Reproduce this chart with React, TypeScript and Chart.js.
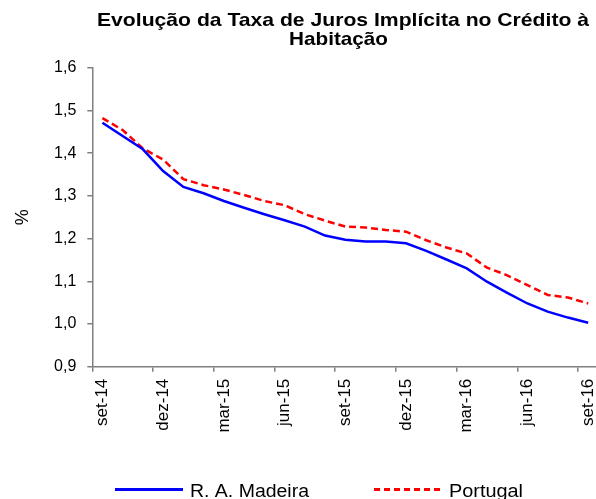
import React, { useEffect, useRef } from "react";
import { Chart, registerables } from "chart.js";

Chart.register(...registerables);

const months = [
  "set-14", "out-14", "nov-14", "dez-14", "jan-15", "fev-15", "mar-15", "abr-15", "mai-15",
  "jun-15", "jul-15", "ago-15", "set-15", "out-15", "nov-15", "dez-15", "jan-16", "fev-16",
  "mar-16", "abr-16", "mai-16", "jun-16", "jul-16", "ago-16", "set-16",
];

const madeira = [
  1.471, 1.44, 1.409, 1.358, 1.321, 1.306, 1.288, 1.272, 1.257, 1.243, 1.228, 1.207, 1.197,
  1.193, 1.193, 1.189, 1.171, 1.151, 1.13, 1.099, 1.073, 1.048, 1.029, 1.015, 1.003,
];

const portugal = [
  1.482, 1.454, 1.411, 1.385, 1.339, 1.325, 1.315, 1.302, 1.288, 1.278, 1.257, 1.242, 1.228,
  1.226, 1.22, 1.216, 1.196, 1.179, 1.165, 1.132, 1.114, 1.091, 1.068, 1.062, 1.048,
];

const seriesNames = ["R. A. Madeira", "Portugal"];
const titleLines = ["Evolução da Taxa de Juros Implícita no Crédito à", "Habitação"];
const yAxisTitle = "%";

const FONT = '"Liberation Sans", Arial, sans-serif';
const GRAY = "#808080";

function drawFit(
  ctx: CanvasRenderingContext2D,
  text: string,
  x: number,
  y: number,
  width: number,
  align: CanvasTextAlign
) {
  const w = ctx.measureText(text).width;
  const sx = width / w;
  ctx.save();
  ctx.translate(x, y);
  ctx.scale(sx, 1);
  ctx.textAlign = align;
  ctx.fillText(text, 0, 0);
  ctx.restore();
}

const overlayPlugin = {
  id: "overlay",
  afterDraw(chart: any) {
    const ctx = chart.ctx as CanvasRenderingContext2D;
    ctx.save();
    // Title
    ctx.fillStyle = "#000";
    ctx.font = `bold 19px ${FONT}`;
    ctx.textBaseline = "alphabetic";
    drawFit(ctx, titleLines[0], 343, 26, 492, "center");
    drawFit(ctx, titleLines[1], 338.5, 44.5, 99, "center");

    // Legend
    const ly = 489.5;
    ctx.lineWidth = 3;
    ctx.strokeStyle = "#0000FF";
    ctx.setLineDash([]);
    ctx.beginPath();
    ctx.moveTo(115, ly);
    ctx.lineTo(183, ly);
    ctx.stroke();
    ctx.strokeStyle = "#FF0000";
    ctx.setLineDash([6, 4]);
    ctx.beginPath();
    ctx.moveTo(374, ly);
    ctx.lineTo(442, ly);
    ctx.stroke();
    ctx.setLineDash([]);
    ctx.font = `17.5px ${FONT}`;
    ctx.fillStyle = "#000";
    drawFit(ctx, seriesNames[0], 190, 496.5, 119, "left");
    drawFit(ctx, seriesNames[1], 449, 496.5, 74, "left");
    ctx.restore();
  },
};

export default function App() {
  const ref = useRef<HTMLCanvasElement | null>(null);

  useEffect(() => {
    document.body.style.margin = "0";
    document.body.style.overflow = "hidden";
    const canvas = ref.current;
    if (!canvas) return;
    const chart = new Chart(canvas, {
      type: "line",
      data: {
        labels: months,
        datasets: [
          {
            label: seriesNames[0],
            data: madeira,
            borderColor: "#0000FF",
            backgroundColor: "#0000FF",
            borderWidth: 2.5,
            pointRadius: 0,
            tension: 0,
          },
          {
            label: seriesNames[1],
            data: portugal,
            borderColor: "#FF0000",
            backgroundColor: "#FF0000",
            borderWidth: 2.5,
            borderDash: [7, 4],
            pointRadius: 0,
            tension: 0,
          },
        ],
      },
      options: {
        responsive: false,
        animation: false,
        layout: { padding: { top: 67.7, left: 0, right: 1.7, bottom: 0 } },
        plugins: {
          legend: { display: false },
          title: { display: false },
          tooltip: { enabled: false },
        },
        scales: {
          x: {
            type: "category",
            offset: true,
            afterFit: (scale: any) => {
              scale.height = 132.3;
              scale.paddingLeft = 0;
              scale.paddingRight = 0;
            },
            grid: {
              offset: true,
              drawOnChartArea: false,
              drawTicks: true,
              tickLength: 5,
              lineWidth: 1.5,
              color: (c: any) => (c.index % 3 === 0 ? GRAY : "rgba(0,0,0,0)"),
            },
            border: { color: GRAY, width: 1.5 },
            ticks: {
              autoSkip: false,
              maxRotation: 90,
              minRotation: 90,
              padding: 7,
              color: "#000",
              font: { family: FONT, size: 17 },
              callback: (_v: any, i: number) => (i % 3 === 0 ? months[i] : ""),
            },
          },
          y: {
            min: 0.9,
            max: 1.6,
            afterFit: (scale: any) => {
              scale.width = 92.3;
              scale.paddingTop = 0;
              scale.paddingBottom = 0;
            },
            grid: {
              drawOnChartArea: false,
              drawTicks: true,
              tickLength: 5,
              lineWidth: 1.5,
              color: GRAY,
            },
            border: { color: GRAY, width: 1.5 },
            ticks: {
              stepSize: 0.1,
              padding: 11,
              color: "#000",
              font: { family: FONT, size: 16 },
              callback: (v: any) => Number(v).toFixed(1).replace(".", ","),
            },
            title: {
              display: true,
              text: yAxisTitle,
              color: "#000",
              font: { family: FONT, size: 18 },
              padding: { top: 12, bottom: 0 },
            },
          },
        },
      },
      plugins: [overlayPlugin],
    });
    return () => chart.destroy();
  }, []);

  return (
    <div
      style={{
        position: "fixed",
        left: 0,
        top: 0,
        width: 596,
        height: 499,
        overflow: "hidden",
        background: "#fff",
      }}
    >
      <canvas ref={ref} width={600} height={499} style={{ display: "block" }} />
    </div>
  );
}
